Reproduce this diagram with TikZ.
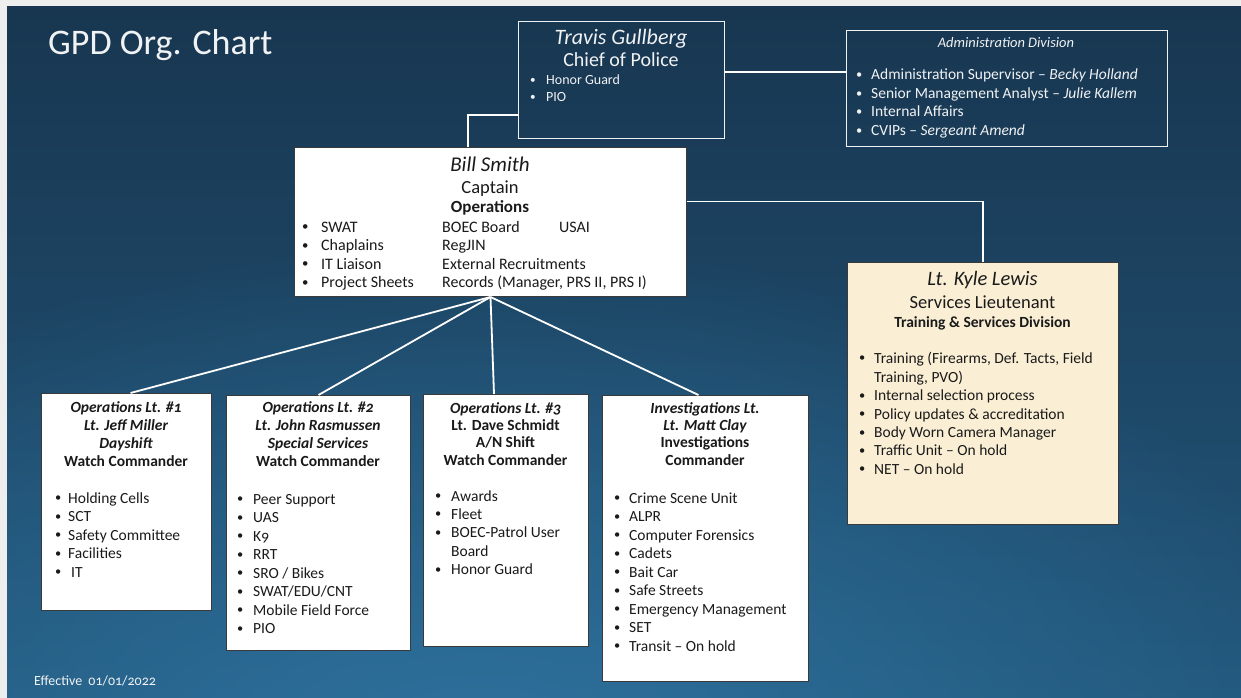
\documentclass[tikz,border=0pt]{standalone}
\usepackage{fontspec}
\usepackage{graphicx}
\setmainfont{Carlito}[Numbers=OldStyle]
\usetikzlibrary{fadings}
\definecolor{margin}{HTML}{EEEEEE}
\definecolor{bgtop}{HTML}{183650}
\definecolor{bgbot}{HTML}{22567A}
\definecolor{glow}{HTML}{2F75A2}
\definecolor{cream}{HTML}{FAEFD5}
\definecolor{ink}{HTML}{1A1A1A}
\definecolor{edge}{HTML}{3A3A3A}
\definecolor{pale}{HTML}{F0F2F4}
\tikzfading[name=glowfade, inner color=transparent!0, outer color=transparent!100]
\newcommand{\bl}[2]{\makebox[#1][l]{\raisebox{0.08em}{\scalebox{0.8}{\textbullet}}}#2}
\begin{document}
\begin{tikzpicture}[x=1pt,y=-1pt,
  wbox/.style={draw=edge, line width=1pt, fill=white, inner sep=0pt, anchor=north west},
  cbox/.style={wbox, fill=cream},
  obox/.style={draw=pale, line width=1.3pt, inner sep=0pt, anchor=north west},
  link/.style={draw=white, line width=1.8pt},
  lt/.style={anchor=base west, inner sep=0pt, text=ink, font=\fontsize{15.5pt}{18pt}\selectfont},
  ct/.style={anchor=base, inner sep=0pt, text=ink, font=\fontsize{15.5pt}{18pt}\selectfont\bfseries},
  wt/.style={anchor=base west, inner sep=0pt, text=pale},
  wc/.style={anchor=base, inner sep=0pt, text=pale}
]
\useasboundingbox (0,0) rectangle (1241,698);
% background
\fill[margin] (0,0) rectangle (1241,698);
\begin{scope}
  \clip (7,7) rectangle (1241,698);
  \shade[top color=bgtop, bottom color=bgbot] (7,7) rectangle (1241,698);
  \fill[glow, path fading=glowfade, fill opacity=0.9] (480,760) ellipse (900 and 520);
\end{scope}

\node[wt, font=\fontsize{36pt}{40pt}\selectfont] (title) at (48,55) {GPD Org. Chart};
\node[wt, font=\fontsize{14pt}{16pt}\selectfont] (eff) at (34,685) {Effective\hspace{3pt} 01/01/2022};

% boxes
\node[obox, minimum width=206pt, minimum height=117pt] (chief) at (518,21) {};
\node[obox, minimum width=321pt, minimum height=116pt] (admin) at (846,30) {};
\node[wbox, minimum width=392pt, minimum height=149pt] (bill) at (294,147) {};
\node[cbox, minimum width=271pt, minimum height=262pt] (kyle) at (847,262) {};
\node[wbox, minimum width=170pt, minimum height=217pt] (b1) at (41,393) {};
\node[wbox, minimum width=184pt, minimum height=255pt] (b2) at (226,395) {};
\node[wbox, minimum width=165pt, minimum height=252pt] (b3) at (423,394) {};
\node[wbox, minimum width=206pt, minimum height=286pt] (b4) at (602,395) {};

% connectors
\coordinate (ca) at ([yshift=8.5pt]chief.east);
\draw[link] (ca) -- (ca -| admin.west);
\draw[link] ([yshift=-35pt]chief.west) -| ([xshift=174pt]bill.north west);
\draw[link] ([yshift=20.5pt]bill.east) -| (kyle.north);
\draw[link] (bill.south) -- ([xshift=4pt]b1.north);
\draw[link] (bill.south) -- (b2.north);
\draw[link] (bill.south) -- ([xshift=-12pt]b3.north);
\draw[link] (bill.south) -- ([xshift=-7pt]b4.north);

% chief
\node[wc, font=\fontsize{22pt}{24pt}\selectfont\itshape] (chiefn) at (621,45) {Travis Gullberg};
\node[wc, font=\fontsize{20pt}{22pt}\selectfont] (chiefr) at (621,67) {Chief of Police};
\node[wt, font=\fontsize{14pt}{16pt}\selectfont] (ch1) at (530,85) {\bl{16pt}{Honor Guard}};
\node[wt, font=\fontsize{14pt}{16pt}\selectfont] (ch2) at (530,102) {\bl{16pt}{PIO}};

% admin
\node[wc, font=\fontsize{14.5pt}{16pt}\selectfont\itshape] (adt) at (1006,48) {Administration Division};
\foreach \t [count=\i] in {{Administration Supervisor -- \textit{Becky Holland}},
  {Senior Management Analyst -- \textit{Julie Kallem}},
  {Internal Affairs},
  {CVIPs -- \textit{Sergeant Amend}}}
  \node[wt, font=\fontsize{15.5pt}{18pt}\selectfont] (ad\i) at (856,{61.5+18.5*\i}) {\bl{15pt}{\t}};

% bill
\node[ct, font=\fontsize{21pt}{24pt}\selectfont\itshape] (billn) at (490,171) {Bill Smith};
\node[ct, font=\fontsize{18.5pt}{22pt}\selectfont] (billr) at (490,193) {Captain};
\node[ct, font=\fontsize{17pt}{20pt}\selectfont\bfseries] (billd) at (490,212) {Operations};
\foreach \a/\b [count=\i] in {SWAT/BOEC Board, Chaplains/RegJIN, IT Liaison/External Recruitments, Project Sheets/{Records (Manager, PRS II, PRS I)}}{
  \node[lt, font=\fontsize{16pt}{18pt}\selectfont] (bra\i) at (302,{213.5+18.5*\i}) {\bl{19pt}{\a}};
  \node[lt, font=\fontsize{16pt}{18pt}\selectfont] (brb\i) at (442,{213.5+18.5*\i}) {\b};
}
\node[lt, font=\fontsize{16pt}{18pt}\selectfont] (brc) at (559,232) {USAI};

% kyle
\node[ct, font=\fontsize{20.5pt}{24pt}\selectfont\itshape] (kylen) at (982.5,285) {Lt. Kyle Lewis};
\node[ct, font=\fontsize{18.5pt}{22pt}\selectfont] (kyler) at (982.5,308) {Services Lieutenant};
\node[ct] (kyled) at (982.5,327) {Training \& Services Division};
\node[lt] (ky1) at (859,363) {\bl{15pt}{Training (Firearms, Def. Tacts, Field}};
\node[lt] (ky1b) at (874,382) {Training, PVO)};
\foreach \t [count=\i] in {Internal selection process, Policy updates \& accreditation, Body Worn Camera Manager, Traffic Unit -- On hold, NET -- On hold}
  \node[lt] (ky\i c) at (859,{382.5+18.3*\i}) {\bl{15pt}{\t}};

% box 1
\node[ct, font=\fontsize{15.5pt}{18pt}\selectfont\bfseries\itshape] (b1a) at (126,412) {Operations Lt. \#1};
\node[ct, font=\fontsize{15.5pt}{18pt}\selectfont\bfseries\itshape] (b1b) at (126,430) {Lt. Jeff Miller};
\node[ct, font=\fontsize{15.5pt}{18pt}\selectfont\bfseries\itshape] (b1c) at (126,448) {Dayshift};
\node[ct] (b1d) at (126,466) {Watch Commander};
\foreach \t [count=\i] in {Holding Cells, SCT, Safety Committee, Facilities, {\hspace{3pt}IT}}
  \node[lt] (b1l\i) at (55,{484.5+18.5*\i}) {\bl{13pt}{\t}};

% box 2
\node[ct, font=\fontsize{15.5pt}{18pt}\selectfont\bfseries\itshape] (b2a) at (318,412) {Operations Lt. \#2};
\node[ct, font=\fontsize{15.5pt}{18pt}\selectfont\bfseries\itshape] (b2b) at (318,430) {Lt. John Rasmussen};
\node[ct, font=\fontsize{15.5pt}{18pt}\selectfont\bfseries\itshape] (b2c) at (318,448) {Special Services};
\node[ct] (b2d) at (318,466) {Watch Commander};
\foreach \t [count=\i] in {Peer Support, UAS, K9, RRT, SRO / Bikes, SWAT/EDU/CNT, Mobile Field Force, PIO}
  \node[lt] (b2l\i) at (237,{485.5+18.5*\i}) {\bl{16pt}{\t}};

% box 3
\node[ct, font=\fontsize{15.5pt}{18pt}\selectfont\bfseries\itshape] (b3a) at (505.5,413) {Operations Lt. \#3};
\node[ct] (b3b) at (505.5,430) {Lt. Dave Schmidt};
\node[ct] (b3c) at (505.5,447) {A/N Shift};
\node[ct] (b3d) at (505.5,465) {Watch Commander};
\node[lt] (b3l1) at (435,501) {\bl{16pt}{Awards}};
\node[lt] (b3l2) at (435,519) {\bl{16pt}{Fleet}};
\node[lt] (b3l3) at (435,537.5) {\bl{16pt}{BOEC-Patrol User}};
\node[lt] (b3l3b) at (451,556) {Board};
\node[lt] (b3l4) at (435,574.5) {\bl{16pt}{Honor Guard}};

% box 4
\node[ct, font=\fontsize{15.5pt}{18pt}\selectfont\bfseries\itshape] (b4a) at (705,413) {Investigations Lt.};
\node[ct, font=\fontsize{15.5pt}{18pt}\selectfont\bfseries\itshape] (b4b) at (705,430) {Lt. Matt Clay};
\node[ct] (b4c) at (705,447) {Investigations};
\node[ct] (b4d) at (705,465) {Commander};
\foreach \t [count=\i] in {Crime Scene Unit, ALPR, Computer Forensics, Cadets, Bait Car, Safe Streets, Emergency Management, SET, Transit -- On hold}
  \node[lt] (b4l\i) at (614,{484.5+18.5*\i}) {\bl{15pt}{\t}};
\end{tikzpicture}
\end{document}
